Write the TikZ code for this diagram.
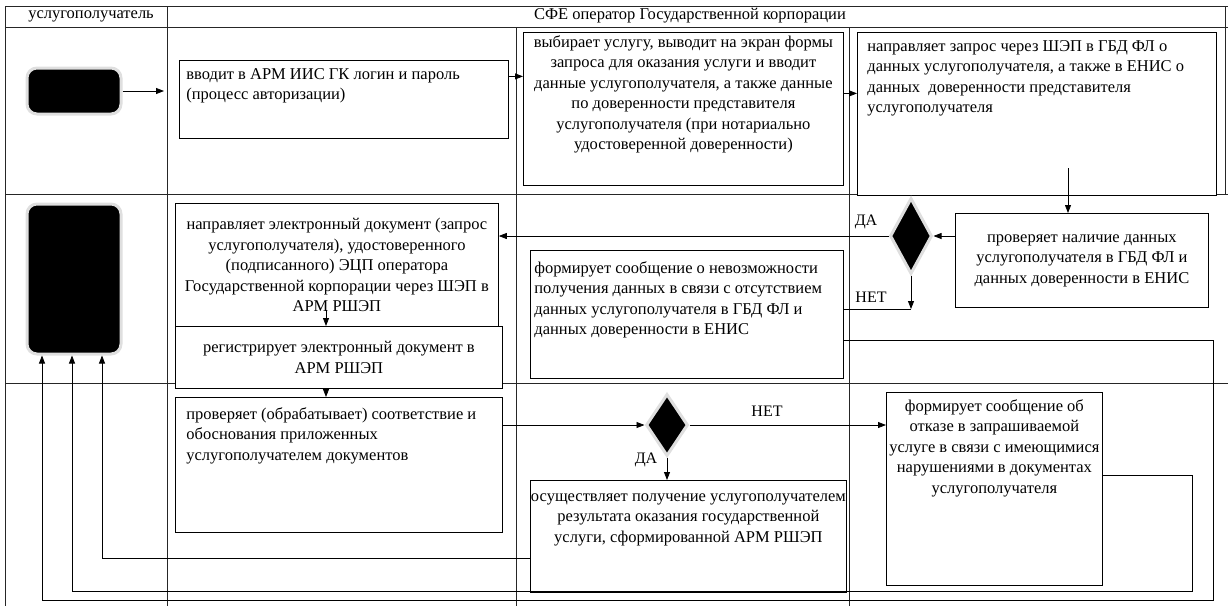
\documentclass[tikz,border=0pt]{standalone}
\usepackage{fontspec}
\setmainfont{Liberation Serif}
\usetikzlibrary{arrows.meta,shapes.geometric}

\newcommand{\flowfont}{\fontsize{16.5}{20.5}\selectfont}
\newcommand{\laneheadfont}{\fontsize{16.5}{20}\selectfont}
\newcommand{\answerfont}{\fontsize{16}{18}\selectfont}
% fixed-size text block: width, height, inner position, body
\newcommand{\flowtext}[4]{\parbox[c][#2pt][#3]{#1pt}{#4}}

\begin{document}
\begin{tikzpicture}[
    x=1pt, y=-1pt,
    lane/.style={draw=black!85, line width=0.8pt},
    flowbox/.style={draw, fill=white, line width=0.8pt, inner sep=0pt,
                    anchor=north west, font=\flowfont},
    terminal/.style={fill=black, draw=gray!25, line width=3pt,
                     rounded corners=10pt, minimum width=94pt},
    decision/.style={diamond, fill=black, draw=gray!25, line width=3pt,
                     inner sep=0pt, minimum width=42pt},
    arrow/.style={-{Triangle[length=8pt,width=6pt]}, line width=0.8pt},
    link/.style={line width=0.8pt},
    answer/.style={font=\answerfont, inner sep=1pt}
  ]
    \useasboundingbox (0,0) rectangle (1230,606);

    % swimlanes
    \foreach \y in {6,27,194,383}
      \draw[lane] (5,\y) -- (1228,\y);
    \draw[lane] (5,6) -- (5,606);
    \draw[lane] (167,6) -- (167,606);
    \draw[lane] (516,27) -- (516,606);
    \draw[lane] (849,27) -- (849,606);
    \draw[lane] (1225,6) -- (1225,194);
    \node[font=\laneheadfont, inner sep=0pt] (hclient) at (91,16) {услугополучатель};
    \node[font=\laneheadfont, inner sep=0pt] (hoper) at (690,16) {СФЕ оператор Государственной корпорации};

    % row 1
    \node[terminal, minimum height=46pt] (start) at (74,91) {};
    \node[flowbox] (auth) at (179,60) {\flowtext{329}{78}{t}{\raggedright\leftskip=7pt
      \vspace*{4.5pt}\strut вводит в АРМ ИИС ГК логин и пароль\\(процесс авторизации)}};
    \node[flowbox] (choose) at (523,32) {\flowtext{320}{153}{t}{\centering
      \vspace*{0.5pt}\strut выбирает услугу, выводит на экран формы\\запроса для оказания услуги и вводит\\
      данные услугополучателя, а также данные\\по доверенности представителя\\
      услугополучателя (при нотариально\\удостоверенной доверенности)}};
    \node[flowbox] (request) at (857,32) {\flowtext{359}{163}{t}{\raggedright\leftskip=10pt
      \vspace*{4.5pt}\strut направляет запрос через ШЭП в ГБД ФЛ о\\данных услугополучателя, а также в ЕНИС о\\
      данных~ доверенности представителя\\услугополучателя}};

    % row 2
    \node[terminal, minimum height=150pt] (finish) at (74,279) {};
    \node[flowbox] (check) at (955,213) {\flowtext{253}{94}{c}{\centering
      проверяет наличие данных\\услугополучателя в ГБД ФЛ и\\данных доверенности в ЕНИС}};
    \node[decision, minimum height=76pt] (dia1) at (911,236) {};
    \node[flowbox] (send) at (175,203) {\flowtext{323}{123}{c}{\centering
      направляет электронный документ (запрос\\услугополучателя), удостоверенного\\
      (подписанного) ЭЦП оператора\\Государственной корпорации через ШЭП в\\АРМ РШЭП}};
    \node[flowbox] (nodata) at (530,250) {\flowtext{313}{128}{t}{\raggedright\leftskip=4pt
      \vspace*{8.5pt}\strut формирует сообщение о невозможности\\получения данных в связи с отсутствием\\
      данных услугополучателя в ГБД ФЛ и\\данных доверенности в ЕНИС}};
    \node[flowbox] (reg) at (175,326) {\flowtext{327}{62}{c}{\centering
      регистрирует электронный документ в\\АРМ РШЭП}};

    % row 3
    \node[flowbox] (proc) at (175,397) {\flowtext{327}{135}{t}{\raggedright\leftskip=11pt
      \vspace*{7.5pt}\strut проверяет (обрабатывает) соответствие и\\обоснования приложенных\\
      услугополучателем документов}};
    \node[decision, minimum height=62pt] (dia2) at (667,425) {};
    \node[flowbox] (result) at (530,480) {\flowtext{316}{112}{t}{\centering
      \vspace*{6.5pt}\strut осуществляет получение услугополучателем\\результата оказания государственной\\
      услуги, сформированной АРМ РШЭП}};
    \node[flowbox] (refuse) at (886,392) {\flowtext{216}{193}{t}{\centering
      \vspace*{4.5pt}\strut формирует сообщение об\\отказе в запрашиваемой\\услуге в связи с имеющимися\\
      нарушениями в документах\\услугополучателя}};

    % answers
    \node[answer] (yes1) at (866,222) {ДА};
    \node[answer] (no1) at (871,297) {НЕТ};
    \node[answer] (yes2) at (646,460) {ДА};
    \node[answer] (no2) at (767,411) {НЕТ};

    % connectors
    \coordinate (qstart) at (1068,168);
    \coordinate (sstart) at (326,310);
    \coordinate (nocorner) at (911,309);
    \draw[arrow, shorten >=15pt] (start.east) -- (start.east -| auth.west);
    \draw[arrow] ([yshift=23pt]auth.east) -- ([yshift=23pt]auth.east -| choose.west);
    \draw[arrow] ([yshift=15.5pt]choose.east) -- ([yshift=15.5pt]choose.east -| request.west);
    \draw[arrow] (qstart) -- (qstart |- check.north);
    \draw[arrow] (dia1.east -| check.west) -- (dia1.east);
    \draw[arrow] (dia1.west) -- (dia1.west -| send.east);
    \draw[arrow] (dia1.south) -- (nocorner);
    \draw[link] (nocorner) -- (nocorner -| nodata.east);
    \draw[arrow] (sstart) -- (sstart |- reg.north);
    \draw[arrow] (reg.south -| sstart) -- (proc.north -| sstart);
    \draw[arrow] (dia2.west -| proc.east) -- (dia2.west);
    \draw[arrow] (dia2.east) -- (dia2.east -| refuse.west);
    \draw[arrow] (dia2.south) -- (dia2.south |- result.north);

    % returns to the service recipient
    \draw[arrow] ([yshift=-22pt]result.west) -| ([xshift=28pt]finish.south);
    \draw[arrow] ([yshift=13.5pt]refuse.east) -| (1192,591) -| ([xshift=-2pt]finish.south);
    \draw[arrow] ([yshift=-26pt]nodata.east) -| (1213,600) -| ([xshift=-32pt]finish.south);
\end{tikzpicture}
\end{document}
